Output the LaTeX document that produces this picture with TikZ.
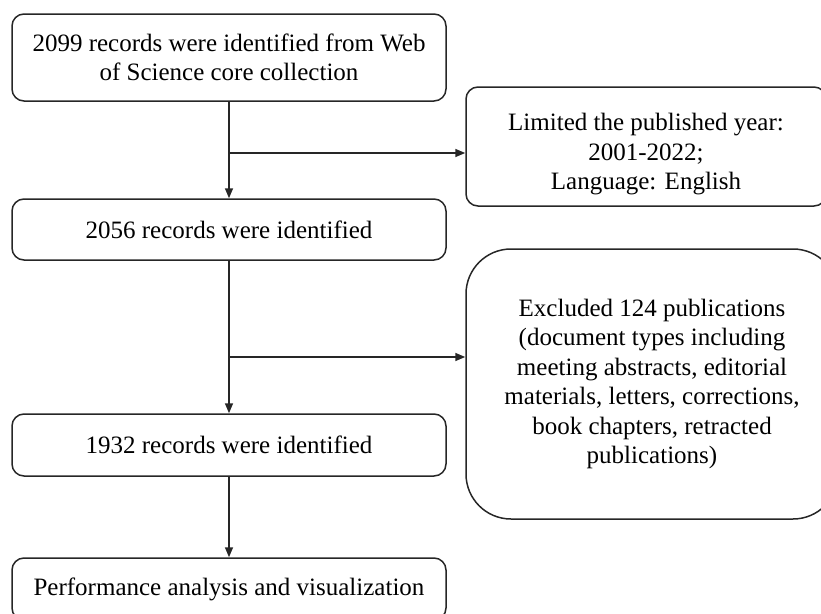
\documentclass[tikz,border=0pt]{standalone}
\usepackage{fontspec}
\setmainfont{Liberation Serif}
\usetikzlibrary{arrows.meta}
\begin{document}
\begin{tikzpicture}[x=1pt,y=-1pt,
  txt/.style={align=center, inner sep=0pt, font=\fontsize{25}{29.5}\selectfont},
  box/.style={txt, draw=black!85, line width=1.5pt, rounded corners=12pt},
  conn/.style={draw=black!85, line width=1.5pt, -{Triangle[length=10pt,width=8pt]}}]
\clip (0,0) rectangle (821,613);
\useasboundingbox (0,0) rectangle (821,613);
\node[box, minimum width=434pt, minimum height=87pt] (b1) at (229,57.5)
  {2099 records were identified from Web\\of Science core collection};
\node[box, minimum width=360pt, minimum height=119pt] (r1) at (646,146.5) {};
\node[txt] (r1t) at ([yshift=-8pt]r1.center)
  {Limited the published year:\\2001-2022;\\Language: English};
\node[box, minimum width=434pt, minimum height=61pt] (b2) at (229,229.5)
  {2056 records were identified};
\node[box, rounded corners=45pt, minimum width=372pt, minimum height=270pt] (r2) at (652,384)
  {Excluded 124 publications\\(document types including\\meeting abstracts, editorial\\materials, letters, corrections,\\book chapters, retracted\\publications)};
\node[box, minimum width=434pt, minimum height=62pt] (b3) at (229,445)
  {1932 records were identified};
\node[box, minimum width=434pt, minimum height=62pt] (b4) at (229,589)
  {Performance analysis and visualization};
\coordinate (j1) at (229,153);
\coordinate (j2) at (229,357);
\draw[conn] (b1.south) -- (b2.north);
\draw[conn] (j1) -- (j1 -| r1.west);
\draw[conn] (b2.south) -- (b3.north);
\draw[conn] (j2) -- (j2 -| r2.west);
\draw[conn] (b3.south) -- (b4.north);
\end{tikzpicture}
\end{document}
